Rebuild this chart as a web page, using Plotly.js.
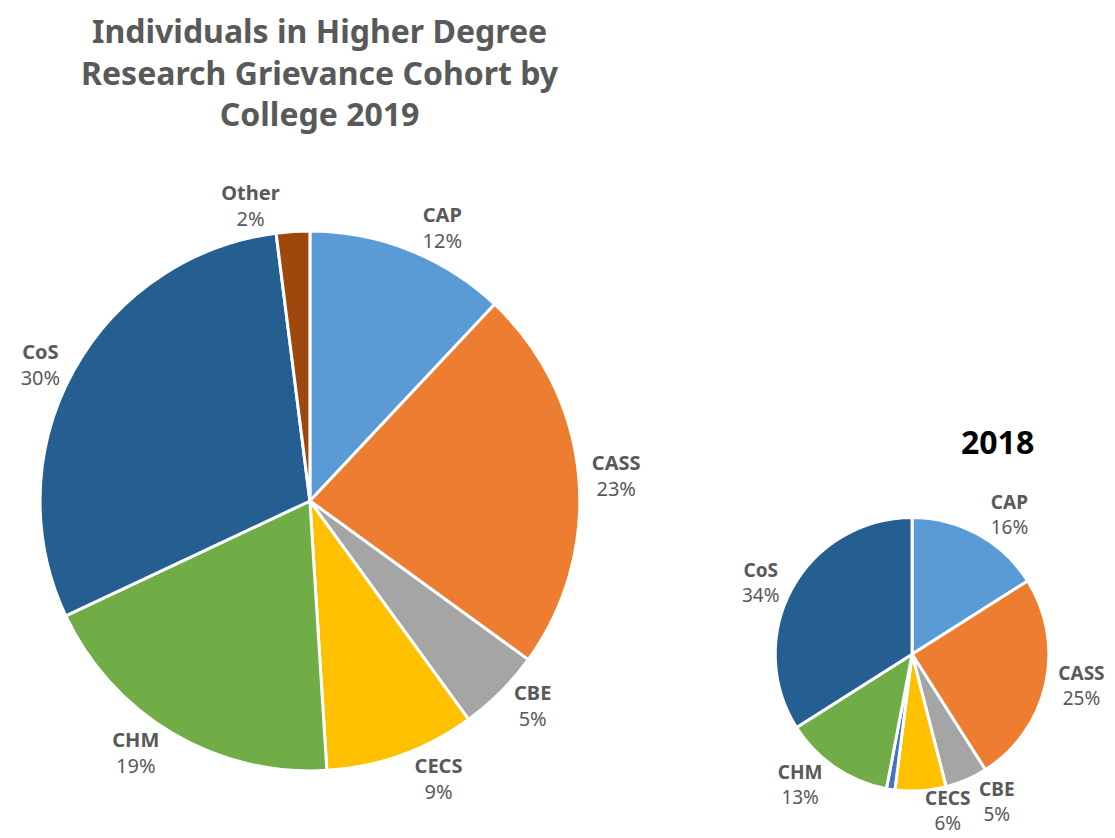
<!DOCTYPE html>
<html><head><meta charset="utf-8">
<script src="https://cdn.plot.ly/plotly-3.0.1.min.js"></script>
<style>html,body{margin:0;padding:0;background:#fff}#chart{width:1115px;height:838px}</style>
</head><body><div id="chart"></div>
<script>
const labels2019 = ['CAP','CASS','CBE','CECS','CHM','CoS','Other'];
const values2019 = [12,23,5,9,19,30,2];
const colors2019 = ['#5B9BD5','#ED7D31','#A5A5A5','#FFC000','#70AD47','#255E91','#9E480E'];

const labels2018 = ['CAP','CASS','CBE','CECS','','CHM','CoS'];
const values2018 = [16,25,5,6,1,13,34];
const colors2018 = ['#5B9BD5','#ED7D31','#A5A5A5','#FFC000','#4472C4','#70AD47','#255E91'];

function mkText(labels, values){
  return labels.map((l,i)=> l ? '<b>'+l+'</b><br>'+values[i]+'%' : '');
}
const font = "'Noto Sans', 'Open Sans', sans-serif";
const dom2018 = {x:[0.695,0.941], y:[0.056,0.3826]};
const domOverlay = {x:[0.695,0.941], y:[0.0632,0.3898]};
const ids2018 = labels2018.map((l,i)=>l||('s'+i));
// CECS label is drawn by a second, transparent copy of the same pie so it is not pushed away by CBE
const pos2018 = labels2018.map(l => (l==='CECS' || l==='') ? 'none' : 'outside');
const posOverlay = labels2018.map(l => l==='CECS' ? 'outside' : 'none');
const data = [
  {type:'pie', labels:labels2019, values:values2019, text:mkText(labels2019,values2019),
   textinfo:'text', textposition:'outside', sort:false, direction:'clockwise', rotation:0,
   marker:{colors:colors2019, line:{color:'#fff', width:3}},
   outsidetextfont:{color:'#595959', size:20, family:font},
   domain:{x:[0.0359,0.52], y:[0.0788,0.7255]}, showlegend:false, automargin:false, hoverinfo:'label+percent'},
  {type:'pie', labels:ids2018, values:values2018, text:mkText(labels2018,values2018),
   textinfo:'text', textposition:pos2018, sort:false, direction:'clockwise', rotation:0,
   marker:{colors:colors2018, line:{color:'#fff', width:3}},
   outsidetextfont:{color:'#595959', size:19, family:font},
   domain:dom2018, showlegend:false, automargin:false, hoverinfo:'label+percent'},
  {type:'pie', labels:ids2018, values:values2018, text:mkText(labels2018,values2018),
   textinfo:'text', textposition:posOverlay, sort:false, direction:'clockwise', rotation:3.5,
   marker:{colors:colors2018.map(()=> 'rgba(0,0,0,0)'), line:{color:'rgba(0,0,0,0)', width:0}},
   outsidetextfont:{color:'#595959', size:19, family:font},
   domain:domOverlay, showlegend:false, automargin:false, hoverinfo:'skip'}
];
const layout = {
  width:1115, height:838, margin:{l:0,r:0,t:0,b:0},
  paper_bgcolor:'#fff', plot_bgcolor:'#fff',
  annotations:[
    {text:'<b>Individuals in Higher Degree<br>Research Grievance Cohort by<br>College 2019</b>',
     x:0.287, y:0.992, xref:'paper', yref:'paper', xanchor:'center', yanchor:'top', showarrow:false,
     font:{family:font, size:32, color:'#595959'}},
    {text:'<b>2018</b>', x:0.895, y:0.4726, xref:'paper', yref:'paper', xanchor:'center', yanchor:'middle', showarrow:false,
     font:{family:font, size:32, color:'#000'}}]
};
Plotly.newPlot('chart', data, layout, {displayModeBar:false});
</script></body></html>
